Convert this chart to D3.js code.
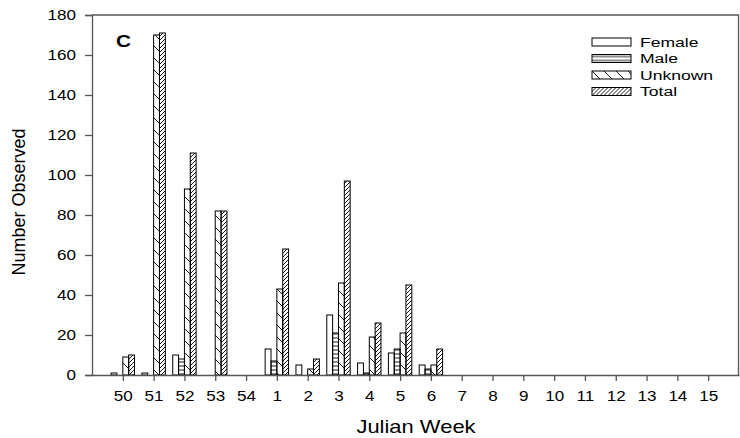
<!DOCTYPE html>
<html lang="en">
<head>
    <meta charset="UTF-8">
    <title>Number Observed by Julian Week</title>
    <script src="https://d3js.org/d3.v7.min.js"></script>
    <style>
        body { margin: 0; background: #fff; }
        text { font-family: "Liberation Sans", Arial, sans-serif; fill: #000; }
    </style>
</head>
<body>
    <div id="chart"></div>

    <script>
        // Data
        var weeks = ["50", "51", "52", "53", "54", "1", "2", "3", "4", "5", "6", "7", "8", "9", "10", "11", "12", "13", "14", "15"];
        var female  = [1, 1, 10, 0, 0, 13, 5, 30, 6, 11, 5, 0, 0, 0, 0, 0, 0, 0, 0, 0];
        var male    = [0, 0, 8, 0, 0, 7, 0, 21, 1, 13, 3, 0, 0, 0, 0, 0, 0, 0, 0, 0];
        var unknown = [9, 170, 93, 82, 0, 43, 3, 46, 19, 21, 5, 0, 0, 0, 0, 0, 0, 0, 0, 0];
        var total   = [10, 171, 111, 82, 0, 63, 8, 97, 26, 45, 13, 0, 0, 0, 0, 0, 0, 0, 0, 0];
        var seriesNames = ["Female", "Male", "Unknown", "Total"];
        var yTicks = [0, 20, 40, 60, 80, 100, 120, 140, 160, 180];

        var series = [female, male, unknown, total];

        var width = 740, height = 438;
        var margin = {top: 15, right: 1, bottom: 62, left: 92};
        var stretch = 1.22; // the original text is a bit wide

        var svg = d3.select("#chart")
            .append("svg")
            .attr("width", width)
            .attr("height", height);

        // patterns
        var defs = svg.append("defs");

        defs.append("pattern")
            .attr("id", "pat-male")
            .attr("patternUnits", "userSpaceOnUse")
            .attr("width", 6).attr("height", 4)
            .append("line")
            .attr("x1", 0).attr("y1", 2).attr("x2", 6).attr("y2", 2)
            .attr("stroke", "#000").attr("stroke-width", 0.9);

        defs.append("pattern")
            .attr("id", "pat-unknown")
            .attr("patternUnits", "userSpaceOnUse")
            .attr("width", 12).attr("height", 12)
            .append("line")
            .attr("x1", 0).attr("y1", 0).attr("x2", 12).attr("y2", 12)
            .attr("stroke", "#000").attr("stroke-width", 0.9);

        defs.append("pattern")
            .attr("id", "pat-total")
            .attr("patternUnits", "userSpaceOnUse")
            .attr("width", 4).attr("height", 4)
            .append("path")
            .attr("d", "M-1,1 l2,-2 M0,4 l4,-4 M3,5 l2,-2")
            .attr("stroke", "#000").attr("stroke-width", 0.9);

        var fills = ["#fff", "url(#pat-male)", "url(#pat-unknown)", "url(#pat-total)"];

        // scales
        var x = d3.scalePoint()
            .domain(weeks)
            .range([margin.left, width - margin.right])
            .padding(1);

        var groupW = 23.4;
        var x1 = d3.scaleBand()
            .domain(d3.range(series.length))
            .range([-groupW / 2, groupW / 2]);

        var y = d3.scaleLinear()
            .domain([0, 180])
            .range([height - margin.bottom - 1, margin.top]);

        var plotBottom = y(0);

        // frame (top and right)
        svg.append("path")
            .attr("d", "M" + margin.left + "," + margin.top + "H" + (width - margin.right - 0.5) + "V" + plotBottom)
            .attr("fill", "none")
            .attr("stroke", "#555")
            .attr("stroke-width", 1.3);

        // bars
        series.forEach(function(vals, s) {
            svg.append("g").selectAll("rect")
                .data(vals)
                .enter()
                .append("rect")
                .attr("x", function(d, i) { return x(weeks[i]) + x1(s); })
                .attr("y", function(d) { return y(d); })
                .attr("width", x1.bandwidth())
                .attr("height", function(d) { return plotBottom - y(d); })
                .attr("fill", fills[s])
                .attr("stroke", function(d) { return d > 0 ? "#000" : "none"; })
                .attr("stroke-width", 1);
        });

        // Y axis
        var yAxis = svg.append("g")
            .attr("transform", "translate(" + margin.left + ",0)")
            .call(d3.axisLeft(y).tickValues(yTicks).tickSize(7));
        yAxis.selectAll("text")
            .style("font-size", "14px")
            .attr("x", -16 / stretch)
            .attr("transform", "scale(" + stretch + ",1)");
        yAxis.selectAll("line, path").attr("stroke", "#555").attr("stroke-width", 1.3);

        // X axis
        var xAxis = svg.append("g")
            .attr("transform", "translate(0," + plotBottom + ")")
            .call(d3.axisBottom(x).tickSizeInner(6).tickSizeOuter(0).tickPadding(10));
        xAxis.selectAll("text")
            .style("font-size", "14px")
            .attr("transform", "scale(" + stretch + ",1)");
        xAxis.selectAll("line, path").attr("stroke", "#555").attr("stroke-width", 1.3);

        // axis titles
        svg.append("text")
            .attr("transform", "translate(25,202) rotate(-90)")
            .attr("text-anchor", "middle")
            .style("font-size", "18px")
            .text("Number Observed");

        svg.append("text")
            .attr("transform", "translate(416,433) scale(" + stretch + ",1)")
            .attr("text-anchor", "middle")
            .style("font-size", "18px")
            .text("Julian Week");

        // panel letter
        svg.append("text")
            .attr("transform", "translate(116,47) scale(1.3,1)")
            .style("font-size", "16px")
            .style("font-weight", "bold")
            .text("C");

        // legend
        var legend = svg.append("g").attr("transform", "translate(592,38)");
        seriesNames.forEach(function(name, i) {
            var row = legend.append("g").attr("transform", "translate(0," + (i * 16.5) + ")");
            row.append("rect")
                .attr("width", 39).attr("height", 8)
                .attr("fill", fills[i])
                .attr("stroke", "#000").attr("stroke-width", 1);
            row.append("text")
                .attr("transform", "translate(48,4) scale(1.3,1)")
                .attr("dy", "0.35em")
                .style("font-size", "13.5px")
                .text(name);
        });
    </script>
</body>
</html>
